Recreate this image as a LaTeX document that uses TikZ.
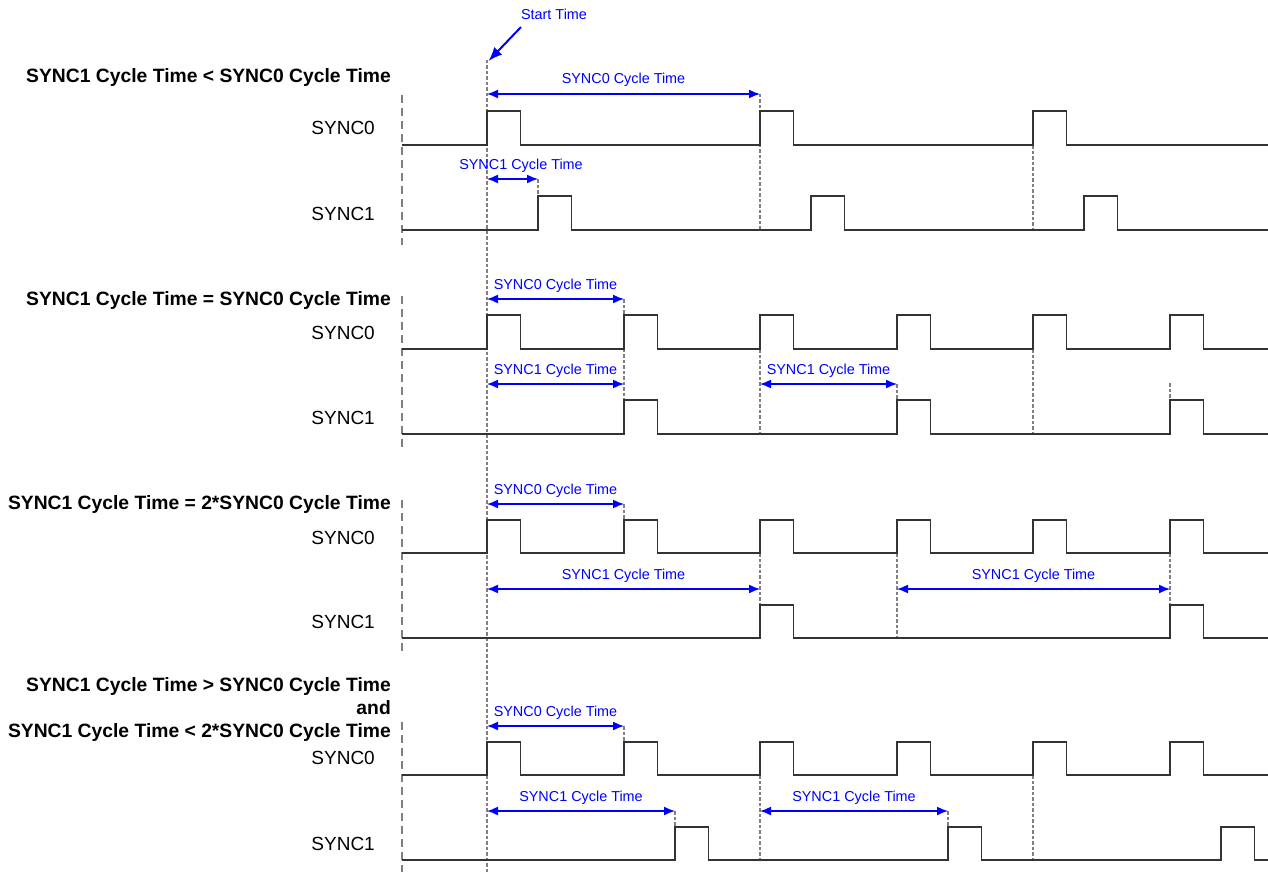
\documentclass[tikz,border=0pt]{standalone}
\usepackage{fontspec}
\setmainfont{Liberation Sans}
\usetikzlibrary{arrows.meta}
\definecolor{wv}{HTML}{333333}
\definecolor{dg}{HTML}{808080}
\tikzset{
 wave/.style={draw=wv, line width=1.9pt, line join=miter},
 sdash/.style={draw=dg, line width=1.1pt, dash pattern=on 3.5pt off 2pt},
 ldash/.style={draw=dg, line width=1.2pt, dash pattern=on 8pt off 5pt},
 dim/.style={draw=blue, line width=1.5pt, {Latex[length=11pt,width=9pt]}-{Latex[length=11pt,width=9pt]}},
 lbl/.style={text=blue, font=\fontsize{14.4}{17}\selectfont, anchor=base, inner sep=0pt},
 ttl/.style={font=\fontsize{19.3}{23}\selectfont\bfseries, anchor=base east, inner sep=0pt},
 sig/.style={font=\fontsize{19}{23}\selectfont, anchor=base east, inner sep=0pt},
}
\begin{document}
\begin{tikzpicture}[x=1pt,y=-1pt]
\useasboundingbox (0,0) rectangle (1268,872);

% ---------- dashed guide lines ----------
\draw[sdash] (487,60) -- (487,872);
% panel 1
\draw[ldash] (402,95) -- (402,245);
\draw[sdash] (760,94) -- (760,230);
\draw[sdash] (538,179) -- (538,196);
\draw[sdash] (1033,145) -- (1033,230);
% panel 2
\draw[ldash] (402,296) -- (402,450);
\draw[sdash] (624,299) -- (624,400);
\draw[sdash] (760,349) -- (760,434);
\draw[sdash] (897,384) -- (897,400);
\draw[sdash] (1033,349) -- (1033,434);
\draw[sdash] (1170,383) -- (1170,400);
% panel 3
\draw[ldash] (402,500) -- (402,655);
\draw[sdash] (624,504) -- (624,520);
\draw[sdash] (760,553) -- (760,605);
\draw[sdash] (897,553) -- (897,638);
\draw[sdash] (1170,553) -- (1170,605);
% panel 4
\draw[ldash] (402,722) -- (402,872);
\draw[sdash] (624,726) -- (624,742);
\draw[sdash] (675,811) -- (675,827);
\draw[sdash] (760,775) -- (760,860);
\draw[sdash] (948,811) -- (948,827);
\draw[sdash] (1033,775) -- (1033,860);

% ---------- waveforms ----------
\draw[wave] (402,145) foreach \x in {487,760,1033} { -- (\x,145) -- (\x,111) -- (\x+33.5,111) -- (\x+33.5,145) } -- (1268,145);
\draw[wave] (402,230) foreach \x in {538,811,1084} { -- (\x,230) -- (\x,196) -- (\x+33.5,196) -- (\x+33.5,230) } -- (1268,230);

\draw[wave] (402,349) foreach \x in {487,624,760,897,1033,1170} { -- (\x,349) -- (\x,315) -- (\x+33.5,315) -- (\x+33.5,349) } -- (1268,349);
\draw[wave] (402,434) foreach \x in {624,897,1170} { -- (\x,434) -- (\x,400) -- (\x+33.5,400) -- (\x+33.5,434) } -- (1268,434);

\draw[wave] (402,553) foreach \x in {487,624,760,897,1033,1170} { -- (\x,553) -- (\x,520) -- (\x+33.5,520) -- (\x+33.5,553) } -- (1268,553);
\draw[wave] (402,638) foreach \x in {760,1170} { -- (\x,638) -- (\x,605) -- (\x+33.5,605) -- (\x+33.5,638) } -- (1268,638);

\draw[wave] (402,775) foreach \x in {487,624,760,897,1033,1170} { -- (\x,775) -- (\x,742) -- (\x+33.5,742) -- (\x+33.5,775) } -- (1268,775);
\draw[wave] (402,860) foreach \x in {675,948,1221} { -- (\x,860) -- (\x,827) -- (\x+33.5,827) -- (\x+33.5,860) } -- (1268,860);

% ---------- start time ----------
\node[lbl] (st) at (554,20) {Start Time};
\coordinate (stA) at (521,27);
\coordinate (stB) at (488.5,61);
\draw[draw=blue, line width=2pt, -{Latex[length=14pt,width=11pt]}] (stA) -- (stB);

% ---------- panel 1 ----------
\node[ttl] (t1) at (391,83) {SYNC1 Cycle Time < SYNC0 Cycle Time};
\node[sig] (s10) at (375,135) {SYNC0};
\node[sig] (s11) at (375,220) {SYNC1};
\coordinate (a1l) at (487,94); \coordinate (a1r) at (760,94);
\draw[dim] (a1l) -- (a1r) node[lbl, midway, yshift=10pt] (l1a) {SYNC0 Cycle Time};
\coordinate (b1l) at (487,179); \coordinate (b1r) at (538,179);
\draw[dim] (b1l) -- (b1r) node[lbl, midway, yshift=10pt, xshift=8.5pt] (l1b) {SYNC1 Cycle Time};

% ---------- panel 2 ----------
\node[ttl] (t2) at (391,305) {SYNC1 Cycle Time = SYNC0 Cycle Time};
\node[sig] (s20) at (375,339) {SYNC0};
\node[sig] (s21) at (375,424) {SYNC1};
\coordinate (a2l) at (487,299); \coordinate (a2r) at (624,299);
\draw[dim] (a2l) -- (a2r) node[lbl, midway, yshift=10pt] (l2a) {SYNC0 Cycle Time};
\coordinate (b2l) at (487,384); \coordinate (b2r) at (624,384);
\draw[dim] (b2l) -- (b2r) node[lbl, midway, yshift=10pt] (l2b) {SYNC1 Cycle Time};
\coordinate (c2l) at (760,384); \coordinate (c2r) at (897,384);
\draw[dim] (c2l) -- (c2r) node[lbl, midway, yshift=10pt] (l2c) {SYNC1 Cycle Time};

% ---------- panel 3 ----------
\node[ttl] (t3) at (391,509) {SYNC1 Cycle Time = 2*SYNC0 Cycle Time};
\node[sig] (s30) at (375,544) {SYNC0};
\node[sig] (s31) at (375,628) {SYNC1};
\coordinate (a3l) at (487,504); \coordinate (a3r) at (624,504);
\draw[dim] (a3l) -- (a3r) node[lbl, midway, yshift=10pt] (l3a) {SYNC0 Cycle Time};
\coordinate (b3l) at (487,589); \coordinate (b3r) at (760,589);
\draw[dim] (b3l) -- (b3r) node[lbl, midway, yshift=10pt] (l3b) {SYNC1 Cycle Time};
\coordinate (c3l) at (897,589); \coordinate (c3r) at (1170,589);
\draw[dim] (c3l) -- (c3r) node[lbl, midway, yshift=10pt] (l3c) {SYNC1 Cycle Time};

% ---------- panel 4 ----------
\node[font=\fontsize{19.3}{23}\selectfont\bfseries, align=right, anchor=east, inner sep=0pt] (t4) at (391,710)
  {SYNC1 Cycle Time > SYNC0 Cycle Time\\and\\SYNC1 Cycle Time < 2*SYNC0 Cycle Time};
\node[sig] (s40) at (375,764) {SYNC0};
\node[sig] (s41) at (375,850) {SYNC1};
\coordinate (a4l) at (487,726); \coordinate (a4r) at (624,726);
\draw[dim] (a4l) -- (a4r) node[lbl, midway, yshift=10pt] (l4a) {SYNC0 Cycle Time};
\coordinate (b4l) at (487,811); \coordinate (b4r) at (675,811);
\draw[dim] (b4l) -- (b4r) node[lbl, midway, yshift=10pt] (l4b) {SYNC1 Cycle Time};
\coordinate (c4l) at (760,811); \coordinate (c4r) at (948,811);
\draw[dim] (c4l) -- (c4r) node[lbl, midway, yshift=10pt] (l4c) {SYNC1 Cycle Time};
\end{tikzpicture}
\end{document}
